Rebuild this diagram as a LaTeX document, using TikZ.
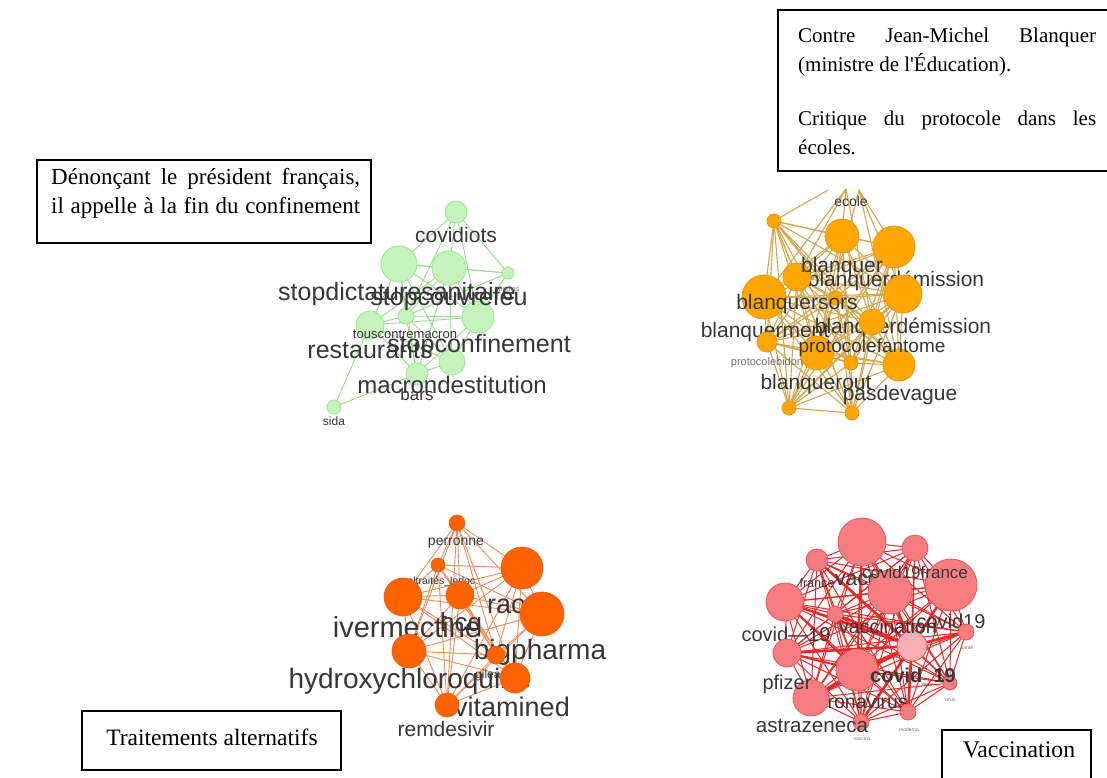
\documentclass[tikz,border=0pt]{standalone}
\usepackage{fontspec}
\setmainfont{Liberation Serif}[Ligatures=TeXOff]
\newfontfamily\lab{Liberation Sans}
\pgfdeclarelayer{back}
\pgfdeclarelayer{edges}
\pgfdeclarelayer{under}
\pgfdeclarelayer{over}
\pgfsetlayers{back,edges,under,main,over}
\definecolor{gfill}{RGB}{196,244,188}
\definecolor{gline}{RGB}{160,225,150}
\definecolor{gedge}{RGB}{150,222,140}
\definecolor{ofill}{RGB}{255,166,0}
\definecolor{oline}{RGB}{228,150,20}
\definecolor{oedge}{RGB}{212,166,80}
\definecolor{rfill}{RGB}{255,98,0}
\definecolor{rline}{RGB}{240,90,10}
\definecolor{redge}{RGB}{243,140,90}
\definecolor{pfill}{RGB}{247,125,128}
\definecolor{pline}{RGB}{232,85,90}
\definecolor{pedge}{RGB}{234,40,40}
\definecolor{plight}{RGB}{250,175,178}
\definecolor{labc}{RGB}{55,55,55}
\tikzset{
  gn/.style={circle, inner sep=0pt, minimum size=2*#1, fill=gfill, draw=gline, line width=0.8pt},
  on/.style={circle, inner sep=0pt, minimum size=2*#1, fill=ofill, draw=oline, line width=0.8pt},
  rn/.style={circle, inner sep=0pt, minimum size=2*#1, fill=rfill, draw=rline, line width=0.6pt},
  pn/.style={circle, inner sep=0pt, minimum size=2*#1, fill=pfill, draw=pline, line width=0.8pt},
  ge/.style={draw=gedge, line width=0.9pt},
  oe/.style={draw=oedge, line width=1.1pt},
  re/.style={draw=redge, line width=0.9pt},
  pe/.style={draw=pedge, line width=1pt},
  pthick/.style={draw=pedge, line width=2.6pt},
  lb/.style={font={\lab\fontsize{#1}{#1}\selectfont}, text=labc, inner sep=0pt, anchor=base},
  tiny/.style={font={\lab\fontsize{#1}{#1}\selectfont}, text=labc!70, inner sep=0pt, anchor=base},
  boxline/.style={font={\fontsize{#1}{#1}\selectfont}, inner sep=0pt, anchor=base west},
  frame/.style={draw=black, line width=1.1pt}
}
\begin{document}
\begin{tikzpicture}[x=1pt,y=-1pt]
\useasboundingbox (0,0) rectangle (1107,778);
\begin{pgfonlayer}{back}
\fill[white] (0,0) rectangle (1107,778);
\end{pgfonlayer}

% ---------------- green graph ----------------
\node[gn=11] (g1) at (456,212) {};
\node[gn=18] (g2) at (399,264) {};
\node[gn=17] (g3) at (449,268) {};
\node[gn=6]  (g4) at (508,273) {};
\node[gn=8]  (g5) at (406,316) {};
\node[gn=14] (g6) at (370,325) {};
\node[gn=16] (g7) at (478,317) {};
\node[gn=13] (g8) at (452,362) {};
\node[gn=11] (g9) at (417,374) {};
\node[gn=7]  (g10) at (334,407) {};
\begin{pgfonlayer}{edges}
\foreach \a/\b in {g1/g2,g1/g3,g1/g4,g1/g7,g1/g5,g2/g3,g2/g4,g3/g4,g3/g7,g4/g7,g2/g5,g2/g6,g2/g7,g3/g5,g3/g6,g3/g8,g5/g7,g6/g7,g5/g8,g6/g9,g9/g10,g6/g10,g7/g8,g5/g9,g2/g8,g3/g9,g6/g8,g4/g5,g8/g9,g7/g9,g2/g9,g5/g6}
  \draw[ge] (\a.center) -- (\b.center);
\end{pgfonlayer}
\begin{pgfonlayer}{over}
\node[lb=21] (lcovidiots) at (456,242) {covidiots};
\node[lb=25] (lstopdict) at (397,300) {stopdictaturesanitaire};
\node[lb=25] (lstopcouv) at (449,305) {stopcouvrefeu};
\node[tiny=7] (lmedias) at (508,291) {medias};
\node[lb=13] (ltous) at (405,338) {touscontremacron};
\node[lb=25] (lrest) at (370,358) {restaurants};
\node[lb=25] (lstopconf) at (479,352) {stopconfinement};
\node[lb=24] (lmacron) at (452,393) {macrondestitution};
\node[lb=17] (lbars) at (417,400) {bars};
\node[lb=12] (lsida) at (334,425) {sida};
\end{pgfonlayer}

% ---------------- orange graph ----------------
\node[on=7]  (o1) at (774,221) {};
\node[on=17] (o2) at (842,236) {};
\node[on=21] (o3) at (894,247) {};
\node[on=14] (o4) at (797,277) {};
\node[on=22] (o5) at (764,297) {};
\node[on=19] (o6) at (903,294) {};
\node[on=7]  (o7) at (836,298) {};
\node[on=13] (o8) at (872,322) {};
\node[on=10] (o9) at (767,342) {};
\node[on=17] (o10) at (817,353) {};
\node[on=7]  (o11) at (851,363) {};
\node[on=16] (o12) at (899,365) {};
\node[on=7]  (o13) at (789,408) {};
\node[on=7]  (o14) at (852,413) {};
\coordinate (ot1) at (828,190);
\coordinate (ot2) at (846,189);
\coordinate (ot3) at (859,190);
\begin{pgfonlayer}{edges}
\foreach \i in {1,...,14}{
  \foreach \j in {1,...,14}{
    \ifnum\i<\j \draw[oe] (o\i.center) -- (o\j.center);\fi
  }
}
\foreach \a/\b in {o1/ot1,o4/ot2,o2/ot2,o3/ot3,o5/ot2,o6/ot3,o8/ot2,o10/ot3,o12/ot3}
  \draw[oe] (\a.center) -- (\b);
\end{pgfonlayer}
\begin{pgfonlayer}{under}
\node[lb=21] (lbdem1) at (896,286) {blanquerdémission};
\node[lb=21] (lbdem2) at (903,333) {blanquerdémission};
\node[lb=21] (lbment) at (765,337) {blanquerment};
\end{pgfonlayer}
\begin{pgfonlayer}{over}
\node[lb=14] (lecole) at (851,206) {ecole};
\node[lb=21] (lblanquer) at (842,272) {blanquer};
\node[lb=21] (lbsors) at (797,309) {blanquersors};
\node[lb=19] (lprotof) at (872,352) {protocolefantome};
\node[tiny=11] (lprotob) at (767,365) {protocolebidon};
\node[lb=21] (lbout) at (816,389) {blanquerout};
\node[lb=21] (lpasde) at (900,400) {pasdevague};
\end{pgfonlayer}

% ---------------- orange-red graph ----------------
\node[rn=8]  (r1) at (457,523) {};
\node[rn=7]  (r2) at (438,565) {};
\node[rn=21] (r3) at (522,568) {};
\node[rn=19] (r4) at (403,597) {};
\node[rn=14] (r5) at (460,595) {};
\node[rn=22] (r6) at (542,614) {};
\node[rn=17] (r7) at (409,651) {};
\node[rn=9]  (r8) at (496,655) {};
\node[rn=15] (r9) at (515,678) {};
\node[rn=12] (r10) at (447,705) {};
\begin{pgfonlayer}{edges}
\foreach \i in {1,...,10}{
  \foreach \j in {1,...,10}{
    \ifnum\i<\j \draw[re] (r\i.center) -- (r\j.center);\fi
  }
}
\end{pgfonlayer}
\begin{pgfonlayer}{under}
\node[lb=14] (lperr) at (456,545) {perronne};
\node[lb=10.5] (lmalt) at (437,584) {maltraités\_ledoc};
\node[lb=27, anchor=base west] (lraoult) at (487,613) {raoult};
\node[lb=26] (lhcq) at (461,631) {hcq};
\node[lb=29] (liver) at (407,637) {ivermectine};
\node[lb=28] (lbig) at (540,659) {bigpharma};
\node[lb=28] (lhydro) at (410,688) {hydroxychloroquine};
\node[lb=12, anchor=base west] (lgil) at (475,678) {gilead};
\node[lb=27] (lvita) at (512,716) {vitamined};
\node[lb=21] (lremd) at (446,736) {remdesivir};
\end{pgfonlayer}

% ---------------- red graph ----------------
\node[pn=24] (p1) at (862,542) {};
\node[pn=13] (p2) at (915,548) {};
\node[pn=11] (p3) at (817,560) {};
\node[pn=26] (p4) at (951,585) {};
\node[pn=22] (p5) at (890,592) {};
\node[pn=19] (p6) at (785,602) {};
\node[pn=8]  (p7) at (835,614) {};
\node[pn=8]  (p8) at (966,632) {};
\node[pn=15, fill=plight] (p9) at (912,646) {};
\node[pn=14] (p10) at (787,653) {};
\node[pn=21] (p11) at (857,670) {};
\node[pn=7]  (p12) at (950,683) {};
\node[pn=18] (p13) at (811,698) {};
\node[pn=8]  (p14) at (908,712) {};
\node[pn=8]  (p15) at (861,722) {};
\begin{pgfonlayer}{edges}
\foreach \i in {1,...,15}{
  \foreach \j in {1,...,15}{
    \ifnum\i<\j \draw[pe] (p\i.center) -- (p\j.center);\fi
  }
}
\foreach \a in {p3,p4,p5,p6,p8,p10,p11,p13,p14,p15,p7}
  \draw[pthick] (p9.center) -- (\a.center);
\foreach \a/\b in {p11/p13,p10/p11,p6/p11,p1/p11}
  \draw[draw=pedge, line width=1.8pt] (\a.center) -- (\b.center);
\end{pgfonlayer}
\begin{pgfonlayer}{under}
\node[lb=21, anchor=base west] (lvaccin) at (835,585) {vaccin};
\node[lb=20] (lcovdash) at (786,641) {covid—19};
\node[lb=20] (lcov19) at (951,628) {covid19};
\node[lb=19.5, anchor=base east] (lcorona) at (908,708) {coronavirus};
\end{pgfonlayer}
\begin{pgfonlayer}{over}
\node[lb=12.6] (lfrance) at (817,587) {france};
\node[lb=17] (lcovfr) at (915,578) {covid19france};
\node[lb=19.5] (lvaccination) at (888,633) {vaccination};
\node[lb=20] (lpfizer) at (787,689) {pfizer};
\node[lb=20, font={\lab\bfseries\fontsize{20}{20}\selectfont}] (lcovund) at (913,682) {covid\_19};
\node[lb=20.6] (lastra) at (812,732) {astrazeneca};
\node[tiny=5] (lsante) at (967,649) {santé};
\node[tiny=5] (lvirus) at (950,701) {virus};
\node[tiny=5] (lmoderna) at (909,731) {moderna};
\node[tiny=5] (lvaccins) at (862,740) {vaccins};
\end{pgfonlayer}

% ---------------- text boxes ----------------
\begin{scope}
\clip (0,0) rectangle (1107,778);
\draw[frame] (778,10) rectangle (1120,171);
\node[boxline=21] (t1a) at (798,43) {\makebox[298pt][s]{Contre Jean-Michel Blanquer}};
\node[boxline=21] (t1b) at (798,72) {(ministre de l'Éducation).};
\node[boxline=21] (t1c) at (798,126) {\makebox[298pt][s]{Critique du protocole dans les}};
\node[boxline=21] (t1d) at (798,155) {écoles.};

\draw[frame] (37,160) rectangle (371,243);
\node[boxline=23] (t2a) at (51,184) {\makebox[309pt][s]{Dénonçant le président français,}};
\node[boxline=23] (t2b) at (51,213) {\makebox[309pt][s]{il appelle à la fin du confinement}};

\draw[frame] (82,711) rectangle (341,770);
\node[boxline=23.5, anchor=base] (t3) at (212,745) {Traitements alternatifs};

\draw[frame] (942,730) rectangle (1091,800);
\node[boxline=23.8, anchor=base] (t4) at (1019,757) {Vaccination};
\end{scope}
\end{tikzpicture}
\end{document}
